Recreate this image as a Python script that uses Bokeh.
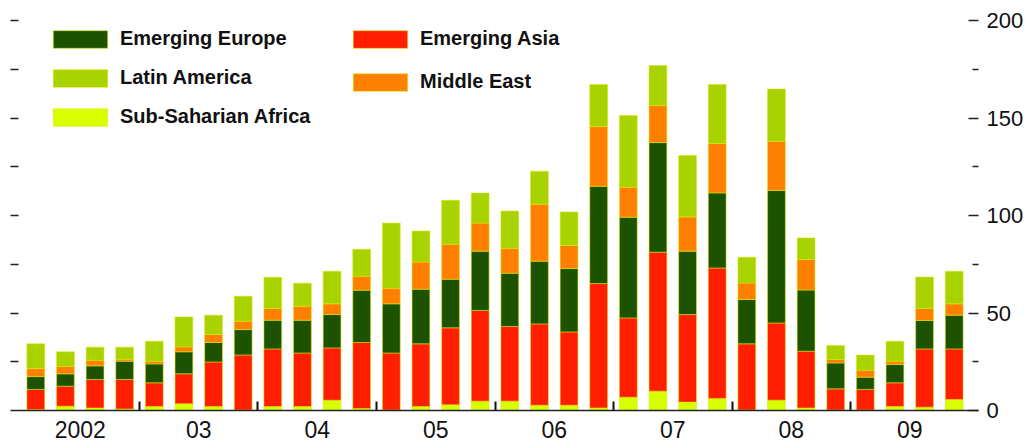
from bokeh.plotting import figure
from bokeh.models import Range1d, LinearAxis, FixedTicker, ColumnDataSource, Legend, LegendItem
from bokeh.embed import file_html
from bokeh.resources import INLINE

# ---- data (USD bn, quarterly 2002Q1 - 2009Q4) ----
years = ["2002", "2003", "2004", "2005", "2006", "2007", "2008", "2009"]
year_labels = ["2002", "03", "04", "05", "06", "07", "08", "09"]
quarters = [f"{y}Q{q}" for y in years for q in (1, 2, 3, 4)]

sub_saharan_africa = [0.5, 2.2, 1.3, 0.8, 2.0, 3.4, 2.0, 0.3,
                      2.0, 2.0, 5.3, 1.0, 0.3, 2.0, 2.9, 4.8,
                      4.8, 2.7, 2.7, 1.3, 6.8, 9.9, 4.3, 6.2,
                      0.3, 5.3, 1.3, 0.3, 0.3, 2.0, 1.7, 5.6]
emerging_asia = [10.3, 10.3, 14.6, 15.1, 12.2, 15.4, 22.9, 28.2,
                 29.6, 27.5, 26.8, 33.9, 29.2, 32.2, 39.5, 46.5,
                 38.3, 41.7, 37.6, 63.8, 40.7, 71.3, 44.9, 66.9,
                 33.9, 39.6, 29.1, 10.8, 10.5, 12.2, 29.9, 26.0]
emerging_europe = [6.6, 6.3, 7.0, 9.4, 9.7, 11.3, 10.0, 13.0,
                   14.7, 16.8, 17.1, 26.8, 25.2, 28.0, 24.9, 30.4,
                   27.3, 32.2, 32.5, 49.9, 51.6, 56.2, 32.5, 38.5,
                   22.7, 67.9, 31.4, 13.3, 6.3, 9.4, 14.6, 17.3]
middle_east = [4.1, 3.8, 2.9, 1.0, 1.4, 2.5, 4.1, 4.3,
               6.0, 7.2, 5.5, 7.2, 8.0, 13.9, 18.0, 14.4,
               12.8, 29.2, 11.8, 30.6, 15.4, 19.0, 17.6, 25.3,
               8.5, 25.3, 15.6, 1.8, 3.6, 1.7, 6.1, 5.8]
latin_america = [12.7, 7.5, 6.7, 6.2, 10.2, 15.4, 9.9, 12.8,
                 16.0, 11.8, 16.7, 13.8, 33.4, 15.9, 22.5, 15.4,
                 19.1, 16.9, 17.2, 21.6, 36.8, 20.5, 31.5, 30.3,
                 13.2, 26.8, 11.1, 7.1, 7.7, 10.2, 16.1, 16.7]

y_label_ticks = [0, 50, 100, 150, 200]
y_minor_ticks = [25, 75, 125, 175]

series = ["Sub-Saharian Africa", "Emerging Asia", "Emerging Europe", "Middle East", "Latin America"]
colors = ["#d8ff00", "#ff1e00", "#1d5200", "#ff8000", "#a8d200"]

source = ColumnDataSource(data={
    "x": list(range(len(quarters))),
    "Sub-Saharian Africa": sub_saharan_africa,
    "Emerging Asia": emerging_asia,
    "Emerging Europe": emerging_europe,
    "Middle East": middle_east,
    "Latin America": latin_america,
})

p = figure(width=1029, height=443,
           x_range=Range1d(-0.854, 31.82), y_range=Range1d(0, 200),
           output_backend="svg", toolbar_location=None,
           y_axis_location=None,
           min_border_left=10, min_border_right=51, min_border_top=20, min_border_bottom=33)
p.outline_line_color = None
p.xgrid.visible = False
p.ygrid.visible = False
p.background_fill_color = "white"

rs = p.vbar_stack(series, x="x", width=0.6, source=source, color=colors,
                  line_color="#dbe800", line_alpha=0.55, line_width=1)

# x axis: year labels mid-year, separator ticks between years
label_pos = [4 * k + 1.5 for k in range(len(years))]
sep_pos = [4 * k + 3.5 for k in range(len(years) - 1)]
xa = p.xaxis[0]
xa.ticker = FixedTicker(ticks=label_pos, minor_ticks=sep_pos)
xa.major_label_overrides = {pos: lab for pos, lab in zip(label_pos, year_labels)}
xa.major_tick_in = 0
xa.major_tick_out = 0
xa.major_tick_line_color = None
xa.minor_tick_in = 9
xa.minor_tick_out = 0
xa.minor_tick_line_color = "#111111"
xa.minor_tick_line_width = 2
xa.axis_line_color = "#222222"
xa.axis_line_width = 1.6
xa.major_label_text_font = "Liberation Sans"
xa.major_label_text_font_size = "23px"
xa.major_label_text_color = "#111111"
xa.major_label_standoff = 10

left_ticks = sorted(y_label_ticks[1:] + y_minor_ticks)
la = LinearAxis(ticker=FixedTicker(ticks=left_ticks))
la.major_label_overrides = {t: "" for t in left_ticks}
la.major_label_text_font_size = "0px"
la.major_label_standoff = 0
la.major_tick_in = 8
la.major_tick_out = 0
la.major_tick_line_color = "#222222"
la.major_tick_line_width = 1.5
la.minor_tick_line_color = None
la.axis_line_color = None
p.add_layout(la, "left")

ra = LinearAxis(ticker=FixedTicker(ticks=y_label_ticks, minor_ticks=y_minor_ticks))
ra.major_tick_in = 10
ra.major_tick_out = 0
ra.minor_tick_in = 6
ra.minor_tick_out = 0
ra.major_tick_line_color = "#222222"
ra.minor_tick_line_color = "#222222"
ra.major_tick_line_width = 1.5
ra.minor_tick_line_width = 1.5
ra.axis_line_color = None
ra.major_label_text_font = "Liberation Sans"
ra.major_label_text_font_size = "22px"
ra.major_label_text_color = "#111111"
ra.major_label_standoff = 8
p.add_layout(ra, "right")

FH = 390
common = dict(glyph_width=68, glyph_height=22, label_standoff=6,
              label_text_font="Liberation Sans", label_text_font_style="bold",
              label_text_font_size="20px", label_text_color="#111111",
              label_height=22, padding=0, margin=0,
              border_line_color=None, background_fill_alpha=0)
leg1 = Legend(items=[LegendItem(label="Emerging Europe", renderers=[rs[2]]),
                     LegendItem(label="Latin America", renderers=[rs[4]]),
                     LegendItem(label="Sub-Saharian Africa", renderers=[rs[0]])],
              location=(36, FH - 108), spacing=16, **common)
leg2 = Legend(items=[LegendItem(label="Emerging Asia", renderers=[rs[1]]),
                     LegendItem(label="Middle East", renderers=[rs[3]])],
              location=(336, FH - 73), spacing=20, **common)
p.add_layout(leg1)
p.add_layout(leg2)

open("out.html", "w").write(file_html(p, INLINE))
